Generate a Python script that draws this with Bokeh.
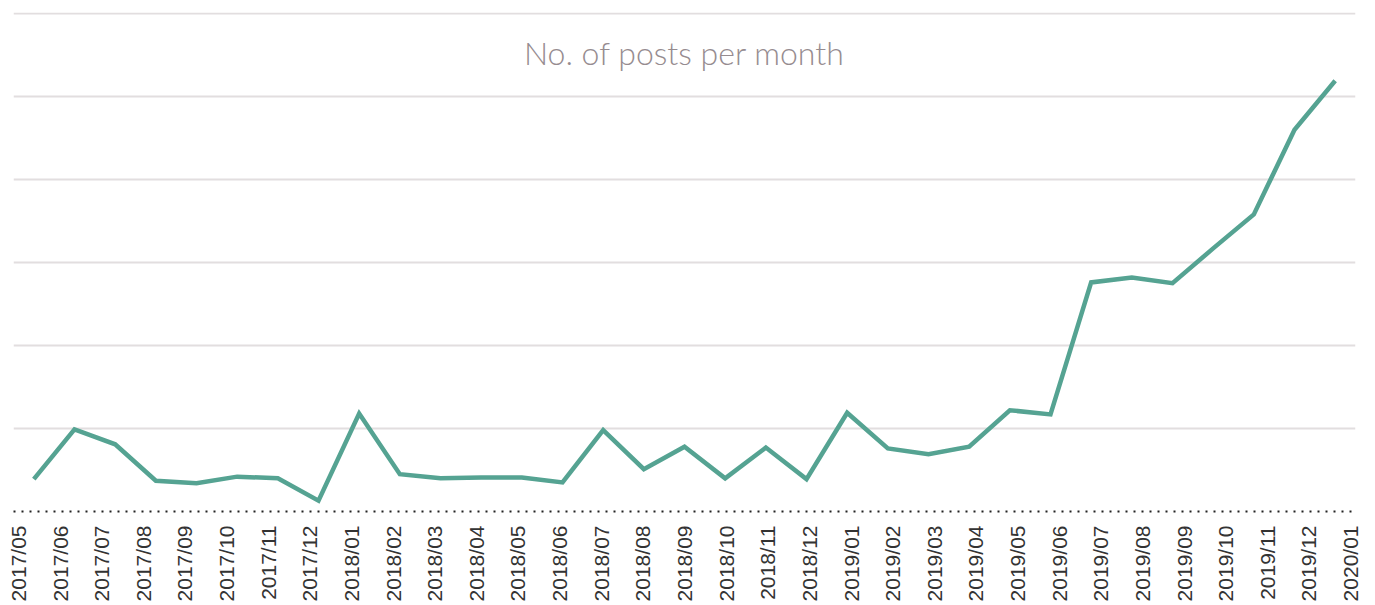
from bokeh.plotting import figure
from bokeh.models import ColumnDataSource, Range1d, LinearAxis, FixedTicker, Label
from bokeh.embed import file_html
from bokeh.resources import INLINE

months = ["2017/05", "2017/06", "2017/07", "2017/08", "2017/09", "2017/10", "2017/11", "2017/12",
          "2018/01", "2018/02", "2018/03", "2018/04", "2018/05", "2018/06", "2018/07", "2018/08",
          "2018/09", "2018/10", "2018/11", "2018/12", "2019/01", "2019/02", "2019/03", "2019/04",
          "2019/05", "2019/06", "2019/07", "2019/08", "2019/09", "2019/10", "2019/11", "2019/12",
          "2020/01"]
posts = [3.9, 9.9, 8.1, 3.7, 3.4, 4.2, 4.0, 1.3,
         11.8, 4.5, 4.0, 4.1, 4.1, 3.5, 9.8, 5.1,
         7.8, 4.0, 7.7, 3.9, 11.9, 7.6, 6.9, 7.8,
         12.2, 11.7, 27.6, 28.2, 27.5, 31.7, 35.8, 46.0,
         51.9]
grid_levels = [10, 20, 30, 40, 50, 60]
title_text = "No. of posts per month"

n = len(months)
source = ColumnDataSource(dict(x=[i + 0.5 for i in range(n)], y=posts, month=months))

p = figure(width=1367, height=604, output_backend="svg", toolbar_location=None,
           x_range=Range1d(0, n), y_range=Range1d(0, 60.12),
           min_border_left=13, min_border_right=12, min_border_top=12, min_border_bottom=10)
p.outline_line_color = None
p.background_fill_color = "white"
p.border_fill_color = "white"

p.xaxis.visible = False
p.yaxis.visible = False
p.xgrid.visible = False
p.ygrid.ticker = FixedTicker(ticks=grid_levels)
p.ygrid.grid_line_color = "#e2dedf"
p.ygrid.grid_line_width = 2

p.extra_x_ranges = {"lab": Range1d(-0.12, n - 1 + 0.12)}
ax = LinearAxis(x_range_name="lab", ticker=FixedTicker(ticks=list(range(n))))
ax.major_label_overrides = {i: m for i, m in enumerate(months)}
ax.major_label_orientation = 1.5707963
ax.major_label_text_font = "Liberation Sans"
ax.major_label_text_font_size = "21px"
ax.major_label_text_color = "#333333"
ax.major_label_standoff = 14
ax.major_tick_line_color = None
ax.minor_tick_line_color = None
ax.major_tick_out = 0
ax.major_tick_in = 0
ax.axis_line_color = "#222222"
ax.axis_line_width = 2
ax.axis_line_dash = "2 6"
p.add_layout(ax, "below")

p.line("x", "y", source=source, line_color="#55a392", line_width=4.5, line_join="miter")

title = Label(x=n / 2, y=55.3, text=title_text, text_align="center", text_baseline="middle",
              text_font="Lato Light", text_font_size="32px", text_color="#968c90")
p.add_layout(title)

open("out.html", "w").write(file_html(p, INLINE))
